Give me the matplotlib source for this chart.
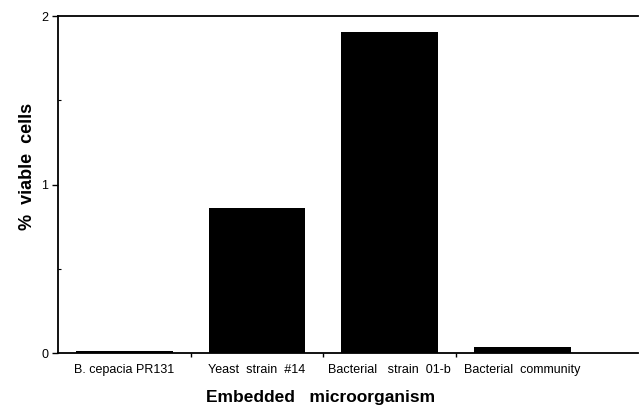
import numpy as np
import matplotlib
matplotlib.use("Agg")
import matplotlib.pyplot as plt
from matplotlib.ticker import MultipleLocator

# data
organisms = ["B. cepacia PR131", "Yeast  strain  #14", "Bacterial   strain  01-b", "Bacterial  community"]
viable = [0.01, 0.86, 1.905, 0.036]

plt.rcParams['font.family'] = ['Liberation Sans', 'DejaVu Sans']

fig = plt.figure(figsize=(6.39, 4.12), dpi=100)
ax = fig.add_axes([0.091, 0.143, 0.907, 0.818])

x = np.arange(len(organisms))
ax.bar(x, viable, width=0.73, color="black")

ax.set_xlim(-0.5, 3.87)
ax.set_ylim(0, 2)
ax.set_yticks([0, 1, 2])
ax.yaxis.set_minor_locator(MultipleLocator(0.5))
ax.tick_params(axis="y", which="major", direction="out", length=4, width=1, labelsize=9, pad=3)
ax.tick_params(axis="y", which="minor", direction="in", length=2, width=0.8)

# category labels without ticks, separator ticks between groups
ax.set_xticks(x)
ax.set_xticklabels(organisms, fontsize=9)
ax.tick_params(axis="x", which="major", length=0, pad=8)
ax.set_xticks([0.5, 1.5, 2.5], minor=True)
ax.tick_params(axis="x", which="minor", direction="out", length=3, width=1)

for s in ["left", "top", "bottom"]:
    ax.spines[s].set_linewidth(1.3)
ax.spines["right"].set_visible(False)

ax.set_ylabel("%  viable  cells", fontsize=13, fontweight="bold")
ax.yaxis.set_label_coords(-0.038, 0.555)
ax.set_xlabel("Embedded   microorganism", fontsize=12.5, fontweight="bold")
ax.xaxis.set_label_coords(0.452, -0.11)

fig.savefig("out.png", dpi=100)
